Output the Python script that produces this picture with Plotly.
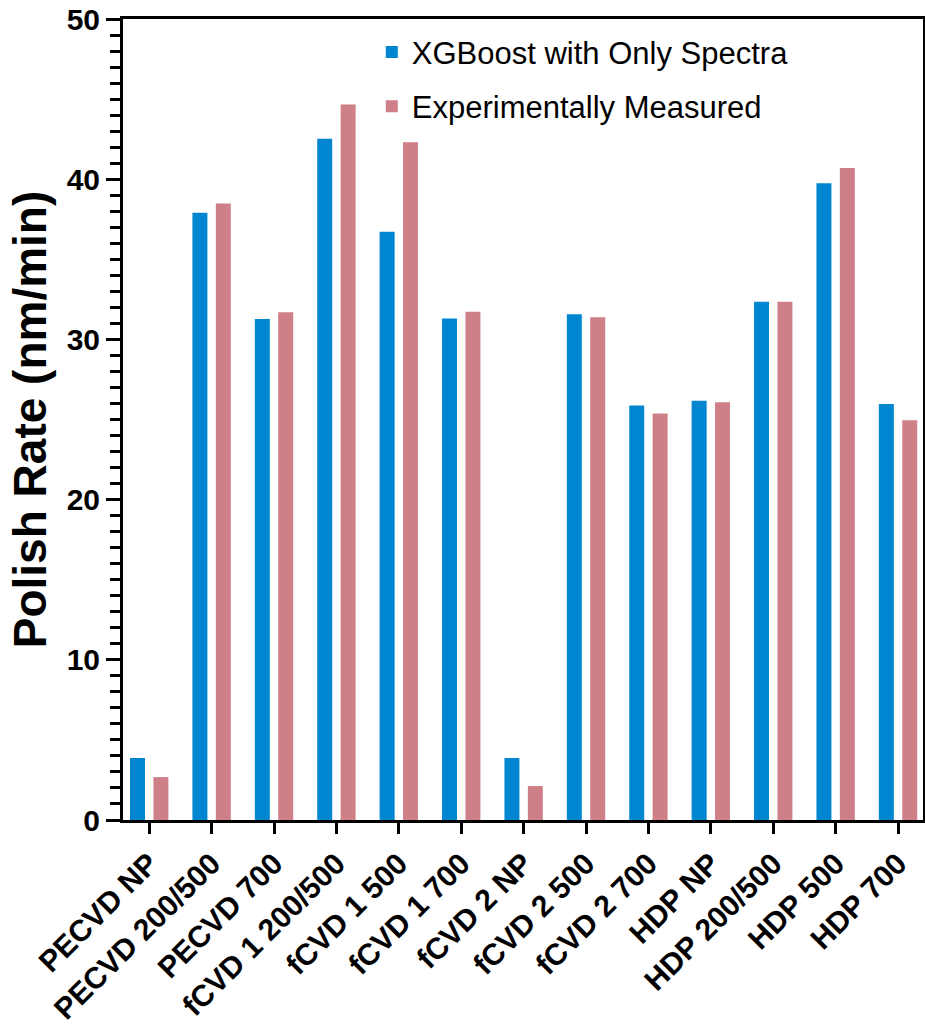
import plotly.graph_objects as go

categories = ["PECVD NP", "PECVD 200/500", "PECVD 700", "fCVD 1 200/500", "fCVD 1 500",
              "fCVD 1 700", "fCVD 2 NP", "fCVD 2 500", "fCVD 2 700", "HDP NP",
              "HDP 200/500", "HDP 500", "HDP 700"]
xgboost_spectra = [3.87, 37.9, 31.27, 42.53, 36.72, 31.31, 3.87, 31.57, 25.88, 26.17, 32.35, 39.74, 25.97]
experimental = [2.68, 38.49, 31.69, 44.66, 42.3, 31.73, 2.12, 31.38, 25.38, 26.07, 32.35, 40.70, 24.95]
series_names = ["XGBoost with Only Spectra", "Experimentally Measured"]
y_ticks = [0, 10, 20, 30, 40, 50]

BLUE = "#0086D0"
PINK = "#CF7F88"
FONT = "Liberation Sans, Arial, Helvetica, sans-serif"

fig = go.Figure()
fig.add_trace(go.Bar(x=categories, y=xgboost_spectra, name=series_names[0],
                     marker=dict(color=BLUE, line=dict(width=0)), legendgroup="a"))
fig.add_trace(go.Bar(x=categories, y=experimental, name=series_names[1],
                     marker=dict(color=PINK, line=dict(width=0)), legendgroup="b"))

fig.update_layout(
    width=925, height=1033,
    margin=dict(l=123, r=2, t=19, b=213),
    paper_bgcolor="white", plot_bgcolor="white",
    barmode="group", bargap=0.25, bargroupgap=0.36,
    font=dict(family=FONT, color="black"),
    showlegend=True,
    legend=dict(x=0.311, y=0.992, xanchor="left", yanchor="top",
                font=dict(size=31, family=FONT, color="black"),
                bgcolor="rgba(0,0,0,0)", traceorder="grouped", tracegroupgap=11,
                itemwidth=30),
)
fig.update_xaxes(
    type="category", range=[-0.42, 12.4], automargin=False,
    showline=True, mirror=True, linecolor="black", linewidth=3,
    ticks="outside", ticklen=11, tickwidth=3, tickcolor="black",
    tickangle=-45, tickfont=dict(size=30, family=FONT, weight="bold", color="black"),
    showgrid=False, zeroline=False,
)
fig.update_yaxes(
    range=[0, 50], tickvals=y_ticks, automargin=False,
    showline=True, mirror=True, linecolor="black", linewidth=3,
    ticks="outside", ticklen=14, tickwidth=3, tickcolor="black",
    tickfont=dict(size=30, family=FONT, weight="bold", color="black"),
    minor=dict(dtick=1, ticks="outside", ticklen=10, tickwidth=3, tickcolor="black", showgrid=False),
    showgrid=False, zeroline=False,
    title=dict(text="Polish Rate (nm/min)", font=dict(size=46, family=FONT, weight="bold", color="black"),
               standoff=6),
)

fig.write_html("out.html")
